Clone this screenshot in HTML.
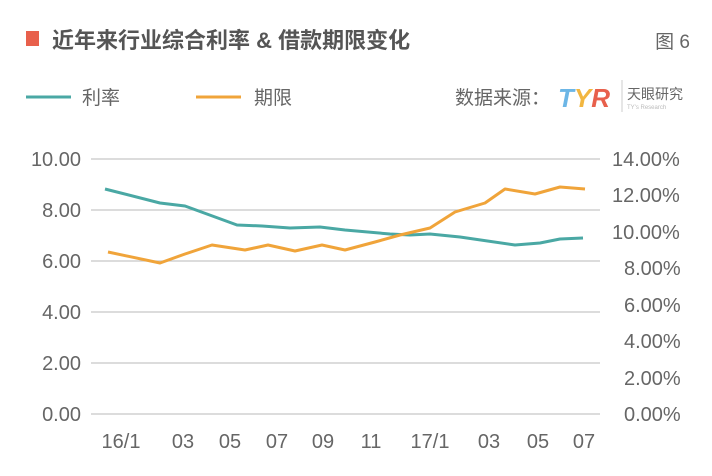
<!DOCTYPE html>
<html><head><meta charset="utf-8"><style>
html,body{margin:0;padding:0;background:#fff;}
body{width:712px;height:471px;overflow:hidden;}
</style></head><body>
<svg width="712" height="471" xmlns="http://www.w3.org/2000/svg" font-family="Liberation Sans, Noto Sans CJK SC, sans-serif">
<rect x="26" y="31" width="13" height="15" fill="#e8604c"/>
<text x="52" y="48" font-size="22" font-weight="bold" fill="#555" font-family="Liberation Sans, Noto Sans CJK SC, sans-serif">近年来行业综合利率 &amp; 借款期限变化</text>
<text x="690" y="48" font-size="19" fill="#666" text-anchor="end" font-family="Liberation Sans, Noto Sans CJK SC, sans-serif">图 6</text>
<line x1="26" y1="97" x2="71" y2="97" stroke="#4aa8a4" stroke-width="3"/>
<text x="82" y="104" font-size="19" fill="#666" font-family="Liberation Sans, Noto Sans CJK SC, sans-serif">利率</text>
<line x1="196" y1="97" x2="241" y2="97" stroke="#f0a43a" stroke-width="3"/>
<text x="254" y="104" font-size="19" fill="#666" font-family="Liberation Sans, Noto Sans CJK SC, sans-serif">期限</text>
<text x="455" y="104" font-size="19" fill="#666" font-family="Liberation Sans, Noto Sans CJK SC, sans-serif">数据来源：</text>
<text x="558" y="107" font-size="26" font-weight="bold" font-style="italic" fill="#e66a5a" font-family="Liberation Sans, sans-serif"><tspan fill="#6cb6e6">T</tspan><tspan fill="#f2b640">Y</tspan><tspan fill="#e8604c">R</tspan></text>
<line x1="622" y1="80" x2="622" y2="112" stroke="#ccc" stroke-width="1"/>
<text x="627" y="99" font-size="14" fill="#666" font-family="Liberation Sans, Noto Sans CJK SC, sans-serif">天眼研究</text>
<text x="627" y="109" font-size="6" fill="#bbb">TY's Research</text>
<g stroke="#c8c8c8" stroke-width="1.2">
<line x1="91" y1="159" x2="600" y2="159"/><line x1="91" y1="210" x2="600" y2="210"/>
<line x1="91" y1="261" x2="600" y2="261"/><line x1="91" y1="312" x2="600" y2="312"/>
<line x1="91" y1="363" x2="600" y2="363"/><line x1="91" y1="414" x2="600" y2="414"/>
</g>
<g font-size="20" fill="#666" text-anchor="end">
<text x="81" y="166">10.00</text><text x="81" y="217">8.00</text><text x="81" y="268">6.00</text>
<text x="81" y="319">4.00</text><text x="81" y="370">2.00</text><text x="81" y="421">0.00</text>
</g>
<g font-size="20" fill="#666" text-anchor="start">
<text x="612" y="166">14.00%</text><text x="612" y="202">12.00%</text><text x="612" y="239">10.00%</text>
<text x="624" y="275">8.00%</text><text x="624" y="312">6.00%</text><text x="624" y="348">4.00%</text>
<text x="624" y="385">2.00%</text><text x="624" y="421">0.00%</text>
</g>
<g font-size="20" fill="#666" text-anchor="middle">
<text x="121" y="448">16/1</text><text x="183" y="448">03</text><text x="230" y="448">05</text>
<text x="277" y="448">07</text><text x="323" y="448">09</text><text x="371" y="448">11</text>
<text x="430" y="448">17/1</text><text x="489" y="448">03</text><text x="538" y="448">05</text><text x="584" y="448">07</text>
</g>
<polyline fill="none" stroke="#4aa8a4" stroke-width="3" stroke-linejoin="round" points="105,189 160,203 185,206 237,225 262,226 290,228 320,227 345,230 390,234 410,235 430,234 460,237 515,245 540,243 560,239 583,238"/>
<polyline fill="none" stroke="#f0a43a" stroke-width="3" stroke-linejoin="round" points="108,252 160,263 185,254 212,245 245,250 268,245 295,251 322,245 345,250 375,242 400,235 430,228 455,212 485,203 505,189 535,194 560,187 585,189"/>
</svg>
</body></html>
